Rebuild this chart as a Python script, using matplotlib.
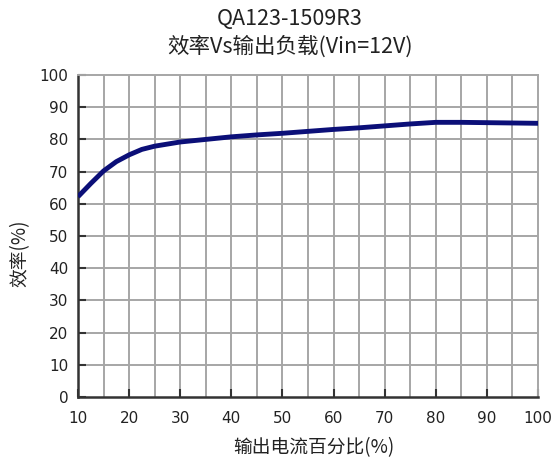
import matplotlib.pyplot as plt

cjk = ['Noto Sans CJK SC', 'DejaVu Sans']
plt.rcParams['font.family'] = ['DejaVu Sans']

# load percentage vs efficiency
load_pct = [10, 12.5, 15, 17.5, 20, 22.5, 25, 30, 35, 40, 45, 50, 55, 60, 65, 70, 75, 80, 85, 90, 95, 100]
efficiency = [62.2, 66.3, 70.2, 73.1, 75.2, 76.9, 77.9, 79.2, 80.0, 80.8, 81.4, 81.9, 82.5, 83.1,
              83.6, 84.2, 84.8, 85.3, 85.3, 85.2, 85.1, 85.0]

x_ticks = [10, 20, 30, 40, 50, 60, 70, 80, 90, 100]
y_ticks = [0, 10, 20, 30, 40, 50, 60, 70, 80, 90, 100]

title_1 = "QA123-1509R3"
title_2 = "效率Vs输出负载(Vin=12V)"
x_label = "输出电流百分比(%)"
y_label = "效率(%)"

fig = plt.figure(figsize=(5.59, 4.63), dpi=100)
ax = fig.add_axes([0.1395, 0.1425, 0.823, 0.6955])

# grid every 5 in x, every 10 in y
for gx in range(15, 100, 5):
    ax.axvline(gx, color='#a6a6a6', lw=1.4, zorder=1)
for gy in range(10, 100, 10):
    ax.axhline(gy, color='#a6a6a6', lw=1.4, zorder=1)

ax.plot(load_pct, efficiency, color='#0b0f78', lw=3.5, zorder=3,
        solid_capstyle='butt', solid_joinstyle='round')

ax.set_xlim(10, 100)
ax.set_ylim(0, 100)
ax.set_xticks(x_ticks)
ax.set_yticks(y_ticks)
ax.tick_params(direction='in', length=6, width=1.5, color='#333333',
               labelsize=11, labelcolor='#222222')
ax.tick_params(axis='y', pad=7)
ax.tick_params(axis='x', pad=10)

for side in ['left', 'bottom']:
    ax.spines[side].set_color('#333333')
    ax.spines[side].set_linewidth(1.8)
for side in ['top', 'right']:
    ax.spines[side].set_color('#a6a6a6')
    ax.spines[side].set_linewidth(1.4)

fig.text(290 / 559, 1 - 19 / 463, title_1, fontsize=15.5, color='#222222',
         ha='center', va='center', family=cjk)
fig.text(290 / 559, 1 - 47 / 463, title_2, fontsize=15.5, color='#222222',
         ha='center', va='center', family=cjk)
fig.text(314 / 559, 1 - 448 / 463, x_label, fontsize=13.5, color='#222222',
         ha='center', va='center', family=cjk)
fig.text(20 / 559, 1 - 253 / 463, y_label, fontsize=13.5, color='#222222',
         ha='center', va='center', rotation=90, family=cjk)

fig.savefig('out.png', dpi=100)
